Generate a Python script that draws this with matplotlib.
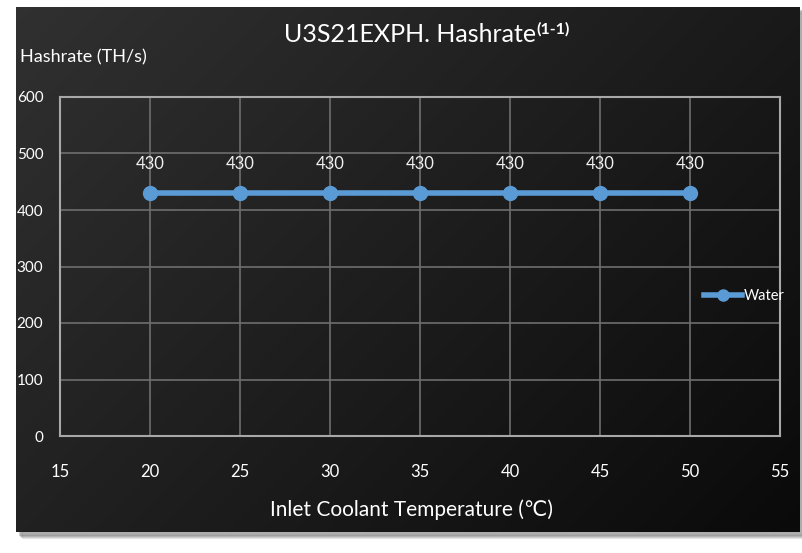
import numpy as np
import matplotlib.pyplot as plt
from matplotlib.patches import Rectangle

# data
temps = [20, 25, 30, 35, 40, 45, 50]
hashrate = [430, 430, 430, 430, 430, 430, 430]
x_ticks = [15, 20, 25, 30, 35, 40, 45, 50, 55]
y_ticks = [0, 100, 200, 300, 400, 500, 600]

plt.rcParams['font.family'] = ['Lato', 'DejaVu Sans']

W, H = 803, 553
fig = plt.figure(figsize=(W / 100, H / 100), dpi=100, facecolor='white')

# dark panel with a soft shadow
px_l, px_r, px_t, px_b = 16, 800, 7, 532
for i, a in enumerate([0.06, 0.08, 0.10, 0.12]):
    off = 6 - i
    fig.patches.append(Rectangle(((px_l + off) / W, (H - px_b - off) / H),
                                 (px_r - px_l) / W, (px_b - px_t) / H,
                                 transform=fig.transFigure, color='black',
                                 alpha=a, zorder=-5))
bg = fig.add_axes([px_l / W, (H - px_b) / H, (px_r - px_l) / W, (px_b - px_t) / H])
bg.set_zorder(-1)
gx, gy = np.meshgrid(np.linspace(0, 1, 200), np.linspace(0, 1, 200))
grad = 0.19 - 0.15 * (0.6 * gx + 0.4 * gy)
bg.imshow(np.dstack([grad, grad, grad]), aspect='auto', extent=[0, 1, 0, 1])
bg.axis('off')

ax = fig.add_axes([60 / W, (H - 436) / H, 720 / W, 339 / H])
ax.set_zorder(1)
ax.set_facecolor('none')
ax.plot(temps, hashrate, color='#5b9bd5', lw=4, marker='o', ms=10, label='Water',
        zorder=3, clip_on=False)
for t, h in zip(temps, hashrate):
    ax.annotate(str(h), (t, h), xytext=(0, 15), textcoords='offset points',
                ha='center', va='bottom', color='#f0f0f0', fontsize=12)

ax.set_xlim(15, 55)
ax.set_ylim(0, 600)
ax.set_xticks(x_ticks)
ax.set_yticks(y_ticks)
ax.grid(True, color='#6e6e6e', lw=1.2)
ax.set_axisbelow(True)
for s in ax.spines.values():
    s.set_color('#a8a8a8')
    s.set_linewidth(1.5)
ax.tick_params(length=0, colors='white', labelsize=12)
ax.tick_params(axis='x', pad=20)
ax.tick_params(axis='y', pad=12, labelsize=11)

leg = ax.legend(loc='center left', bbox_to_anchor=(0.885, 0.413), frameon=False,
                fontsize=10.5, handlelength=2.6, handletextpad=0.1, borderpad=0,
                labelcolor='white', markerscale=0.8)

title = fig.text(410 / W, 1 - 35 / H, 'U3S21EXPH. Hashrate', ha='center', va='center',
                 color='white', fontsize=18)
ax.annotate('(1-1)', xy=(1, 1.08), xycoords=title, ha='left', va='top',
            color='white', fontsize=11.5, fontweight='bold')
fig.text(20 / W, 1 - 57 / H, 'Hashrate (TH/s)', ha='left', va='center',
         color='white', fontsize=13)
fig.text(411 / W, 1 - 510 / H, 'Inlet Coolant Temperature (℃)', ha='center', va='center',
         color='white', fontsize=15)

fig.savefig('out.png', dpi=100, facecolor='white')
